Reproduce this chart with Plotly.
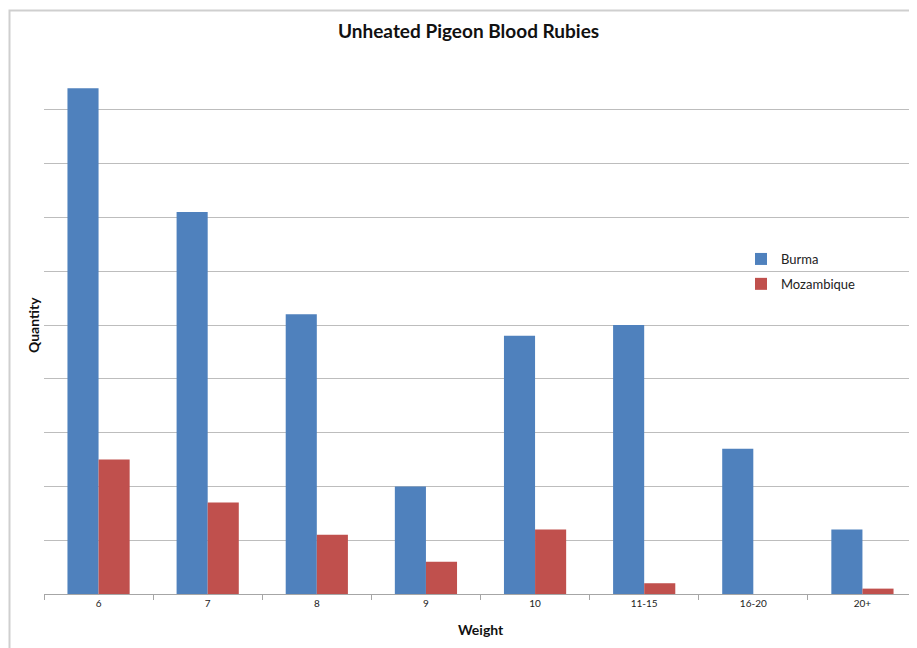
import plotly.graph_objects as go

categories = ["6", "7", "8", "9", "10", "11-15", "16-20", "20+"]
burma = [94, 71, 52, 20, 48, 50, 27, 12]
mozambique = [25, 17, 11, 6, 12, 2, 0, 1]

OFF = 8  # page body margin
W, H = 917, 648 - OFF
L, R, T, B = 44 - OFF, OFF, 56 - OFF, 54
pw = W - L - R
ph = H - T - B

def px_x(px):
    return (px - OFF - L) / pw

def px_y(py):
    return (H - B - (py - OFF)) / ph

font = "Lato, Open Sans, sans-serif"

fig = go.Figure()
fig.add_trace(go.Bar(x=categories, y=burma, name="Burma", marker_color="#4F81BD",
                     marker_line_width=0, legendgroup="a"))
fig.add_trace(go.Bar(x=categories, y=mozambique, name="Mozambique", marker_color="#C0504D",
                     marker_line_width=0, legendgroup="b"))

fig.update_layout(
    width=W, height=H,
    margin=dict(l=L, r=R, t=T, b=B),
    paper_bgcolor="white", plot_bgcolor="white",
    barmode="group", bargap=0.43, bargroupgap=0,
    font=dict(family=font, color="#222"),
    showlegend=True,
    legend=dict(x=px_x(741), y=px_y(244), xanchor="left", yanchor="top",
                font=dict(size=13, color="#222"), tracegroupgap=5,
                itemwidth=30, bgcolor="rgba(0,0,0,0)"),
    xaxis=dict(type="category", showline=True, linecolor="#a6a6a6", linewidth=1,
               ticks="outside", tickson="boundaries", ticklen=5, tickcolor="#a6a6a6",
               tickfont=dict(size=10, color="#222"), showgrid=False, zeroline=False),
    yaxis=dict(range=[0, 100], dtick=10, showticklabels=False, showgrid=True,
               gridcolor="#bdbdbd", gridwidth=1, zeroline=False, showline=False, ticks=""),
)

fig.add_annotation(text="<b>Unheated Pigeon Blood Rubies</b>", xref="paper", yref="paper",
                   x=px_x(468), y=px_y(31), showarrow=False, font=dict(size=19, color="#111"),
                   xanchor="center", yanchor="middle")
fig.add_annotation(text="<b>Quantity</b>", xref="paper", yref="paper",
                   x=px_x(33), y=px_y(325), showarrow=False, textangle=-90,
                   font=dict(size=14, color="#111"), xanchor="center", yanchor="middle")
fig.add_annotation(text="<b>Weight</b>", xref="paper", yref="paper",
                   x=px_x(481), y=px_y(629), showarrow=False,
                   font=dict(size=14, color="#111"), xanchor="center", yanchor="middle")

# chart frame
fig.add_shape(type="rect", xref="paper", yref="paper",
              x0=px_x(9.5), y0=px_y(700), x1=px_x(960), y1=px_y(10.5),
              line=dict(color="#cfcfcf", width=2), fillcolor="rgba(0,0,0,0)", layer="below")

fig.write_html("out.html")
